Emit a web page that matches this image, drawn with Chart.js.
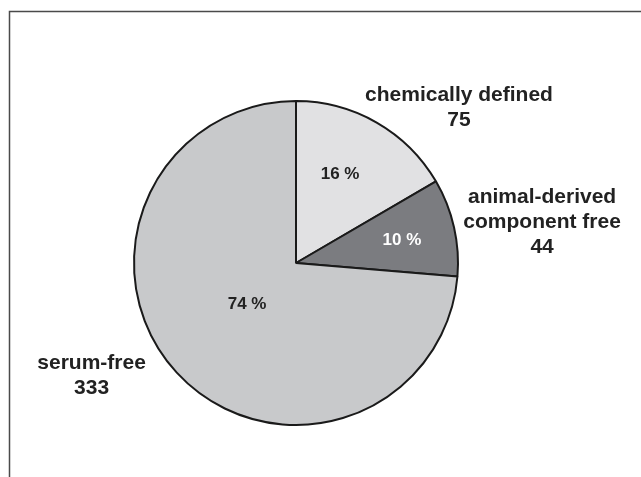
<!DOCTYPE html>
<html>
<head>
<meta charset="utf-8">
<script src="https://cdn.jsdelivr.net/npm/chart.js@4"></script>
<style>
  html, body { margin: 0; padding: 0; background: #fff; }
  #wrap { position: relative; width: 641px; height: 477px; }
</style>
</head>
<body>
<div id="wrap"><canvas id="mediaPie"></canvas></div>
<script>
// categorías y valores
const categories = ['chemically defined', 'animal-derived\ncomponent free', 'serum-free'];
const counts = [75, 44, 333];
const percentLabels = ['16 %', '10 %', '74 %'];
const sliceColors = ['#e1e1e3', '#7b7c80', '#c8c9cb'];

// posiciones de las etiquetas, en radios desde el centro
const outerPos = [[1.006, -1.037], [1.519, -0.407], [-1.262, 0.617]];
const innerPos = [[0.272, -0.549], [0.654, -0.142], [-0.302, 0.253]];
const innerColors = ['#222', '#fff', '#222'];

const labelPlugin = {
    id: 'labelPlugin',
    beforeDraw(chart) {
        const c = chart.ctx;
        c.save();
        c.strokeStyle = '#4a4a4a';
        c.lineWidth = 1.5;
        c.beginPath();
        c.moveTo(9.5, 477);
        c.lineTo(9.5, 11.5);
        c.lineTo(641, 11.5);
        c.stroke();
        c.restore();
    },
    afterDatasetsDraw(chart) {
        const c = chart.ctx;
        const arc = chart.getDatasetMeta(0).data[0];
        const cx = arc.x, cy = arc.y, r = arc.outerRadius;
        c.save();
        c.textAlign = 'center';
        c.textBaseline = 'middle';
        categories.forEach((cat, i) => {
            const lines = cat.split('\n').concat(String(counts[i]));
            c.font = 'bold 21px "Liberation Sans", Arial, sans-serif';
            c.fillStyle = '#222';
            const x = cx + outerPos[i][0] * r;
            const y = cy + outerPos[i][1] * r;
            lines.forEach((ln, k) => c.fillText(ln, x, y + k * 25));

            c.font = 'bold 17px "Liberation Sans", Arial, sans-serif';
            c.fillStyle = innerColors[i];
            c.fillText(percentLabels[i], cx + innerPos[i][0] * r, cy + innerPos[i][1] * r);
        });
        c.restore();
    }
};

new Chart(document.getElementById('mediaPie'), {
    type: 'pie',
    data: {
        labels: categories,
        datasets: [{
            data: counts,
            backgroundColor: sliceColors,
            borderColor: '#1a1a1a',
            borderWidth: 2
        }]
    },
    options: {
        responsive: true,
        maintainAspectRatio: false,
        animation: false,
        layout: {
            padding: { top: 100, bottom: 51, left: 133, right: 182 }
        },
        plugins: {
            legend: { display: false },
            tooltip: { enabled: false }
        }
    },
    plugins: [labelPlugin]
});
</script>
</body>
</html>
